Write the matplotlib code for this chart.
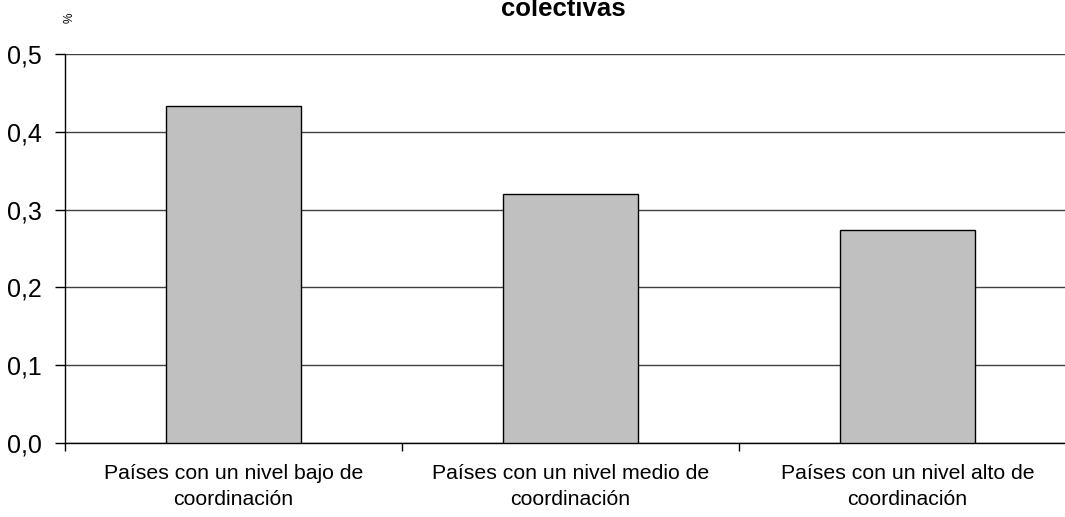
import matplotlib
matplotlib.use("Agg")
import matplotlib.pyplot as plt

plt.rcParams["font.family"] = ["Liberation Sans", "DejaVu Sans"]

categories = [
    "Países con un nivel bajo de\ncoordinación",
    "Países con un nivel medio de\ncoordinación",
    "Países con un nivel alto de\ncoordinación",
]
values = [0.433, 0.320, 0.274]
yticks = [0.0, 0.1, 0.2, 0.3, 0.4, 0.5]
ytick_labels = ["0,0", "0,1", "0,2", "0,3", "0,4", "0,5"]

W, H = 1065, 517
fig = plt.figure(figsize=(W / 100, H / 100), dpi=100)
# plot area runs a little past the right edge of the image, as in the original
ax = fig.add_axes((65 / W, 1 - 443 / H, 1011 / W, (443 - 54) / H))

x = range(len(categories))
ax.bar(x, values, width=0.4, color="#c0c0c0", edgecolor="black", linewidth=1, zorder=3)

ax.set_xlim(-0.5, len(categories) - 0.5)
ax.set_ylim(0, 0.5)
ax.set_yticks(yticks)
ax.set_yticklabels(ytick_labels, fontsize=18)
ax.yaxis.grid(True, color="#404040", linewidth=1, zorder=0)
ax.set_axisbelow(True)

ax.set_xticks(list(x))
ax.set_xticklabels(categories, fontsize=15.3, linespacing=1.5)
ax.set_xticks([i - 0.5 for i in range(len(categories) + 1)], minor=True)
ax.tick_params(axis="x", which="major", length=0, pad=15)
ax.tick_params(axis="x", which="minor", length=6, width=1, color="black", direction="out")
ax.tick_params(axis="y", length=7, width=1, color="black", direction="out", pad=10)

for side in ("top", "right"):
    ax.spines[side].set_visible(False)
for side in ("left", "bottom"):
    ax.spines[side].set_color("black")
    ax.spines[side].set_linewidth(1)

# upper title lines fall outside the image in the original; only the last one shows
fig.text(563 / W, 1 - 16 / H, "colectivas", ha="center", va="baseline",
         fontsize=18.5, fontweight="bold")
fig.text(70 / W, 1 - 18 / H, "%", ha="center", va="center", rotation=90, fontsize=8.5)

fig.savefig("out.png", dpi=100)
